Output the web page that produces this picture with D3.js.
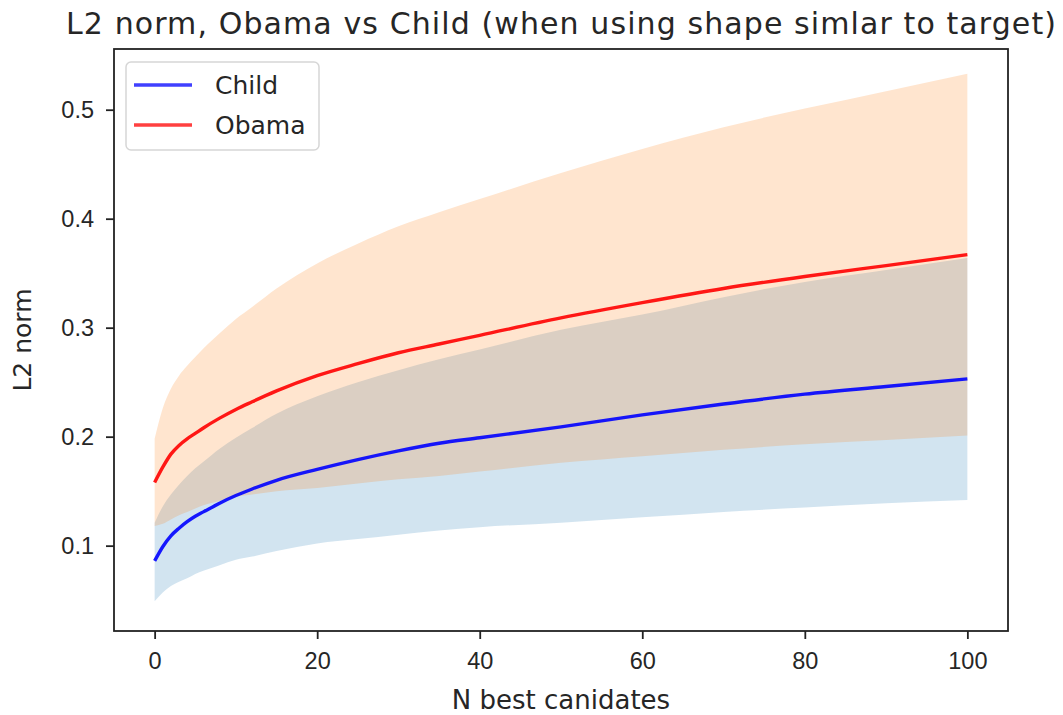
<!DOCTYPE html>
<html>
<head>
<meta charset="utf-8">
<script src="https://cdn.jsdelivr.net/npm/d3@7"></script>
<style>
  body { margin: 0; background: #fff; }
  svg { display: block; font-family: "DejaVu Sans", sans-serif; }
</style>
</head>
<body>
<svg id="chart" width="1063" height="715"></svg>
<script>
// N best candidates
const nValues   = [0, 1, 2, 3, 4, 5, 6, 8, 10, 12, 15, 20, 25, 30, 35, 40, 50, 60, 70, 80, 90, 100];
// Child: mean line and shaded band
const childMean = [0.086, 0.099, 0.109, 0.116, 0.122, 0.127, 0.131, 0.139, 0.146, 0.152, 0.160, 0.170, 0.179, 0.187, 0.194, 0.199, 0.209, 0.220, 0.230, 0.239, 0.246, 0.253];
const childLow  = [0.049, 0.057, 0.063, 0.067, 0.070, 0.074, 0.077, 0.082, 0.087, 0.090, 0.095, 0.102, 0.106, 0.110, 0.114, 0.117, 0.121, 0.126, 0.131, 0.135, 0.139, 0.142];
const childHigh = [0.121, 0.136, 0.147, 0.156, 0.164, 0.171, 0.177, 0.189, 0.199, 0.208, 0.221, 0.237, 0.250, 0.261, 0.271, 0.280, 0.298, 0.312, 0.328, 0.342, 0.353, 0.364];
// Obama: mean line and shaded band
const obamaMean = [0.158, 0.172, 0.184, 0.192, 0.198, 0.203, 0.208, 0.217, 0.225, 0.232, 0.242, 0.256, 0.267, 0.277, 0.285, 0.293, 0.309, 0.323, 0.336, 0.347, 0.357, 0.367];
const obamaLow  = [0.118, 0.120, 0.124, 0.128, 0.131, 0.134, 0.137, 0.141, 0.145, 0.147, 0.150, 0.153, 0.157, 0.161, 0.164, 0.168, 0.176, 0.182, 0.188, 0.193, 0.197, 0.201];
const obamaHigh = [0.198, 0.226, 0.244, 0.256, 0.265, 0.273, 0.281, 0.295, 0.308, 0.319, 0.336, 0.359, 0.377, 0.393, 0.406, 0.418, 0.442, 0.464, 0.484, 0.501, 0.517, 0.533];

const xTicks = [0, 20, 40, 60, 80, 100];
const yTicks = [0.1, 0.2, 0.3, 0.4, 0.5];

const series = [
  {name: 'Child', mean: childMean, low: childLow, high: childHigh, line: '#0000ff', band: '#1f77b4'},
  {name: 'Obama', mean: obamaMean, low: obamaLow, high: obamaHigh, line: '#ff0000', band: '#ff7f0e'}
];

const margin = {top: 49, right: 55, bottom: 84, left: 114},
  width = 1063 - margin.left - margin.right,
  height = 715 - margin.top - margin.bottom,
  fontSize = 23.5;

var svg = d3.select('#chart');
var g = svg.append('g')
  .attr('transform', 'translate(' + margin.left + ',' + margin.top + ')');

var x = d3.scaleLinear().domain([-5, 105]).range([0, width]);
var y = d3.scaleLinear().domain([0.0217, 0.5557]).range([height, 0]);

// shaded bands first, child then obama on top
series.forEach(function(s) {
  var pts = nValues.map(function(n, i) { return {n: n, lo: s.low[i], hi: s.high[i]}; });
  var area = d3.area()
    .x(function(d) { return x(d.n); })
    .y0(function(d) { return y(d.lo); })
    .y1(function(d) { return y(d.hi); })
    .curve(d3.curveMonotoneX);
  g.append('path')
    .datum(pts)
    .attr('d', area)
    .attr('fill', s.band)
    .attr('fill-opacity', 0.2);
});

series.forEach(function(s) {
  var pts = nValues.map(function(n, i) { return {n: n, v: s.mean[i]}; });
  var line = d3.line()
    .x(function(d) { return x(d.n); })
    .y(function(d) { return y(d.v); })
    .curve(d3.curveMonotoneX);
  g.append('path')
    .datum(pts)
    .attr('d', line)
    .attr('fill', 'none')
    .attr('stroke', s.line)
    .attr('stroke-opacity', 0.9)
    .attr('stroke-width', 3.4);
});

// axes
var xAxis = d3.axisBottom(x).tickValues(xTicks).tickSize(8).tickPadding(13).tickFormat(d3.format('d'));
var yAxis = d3.axisLeft(y).tickValues(yTicks).tickSize(8).tickPadding(12).tickFormat(d3.format('.1f'));

var gx = g.append('g').attr('transform', 'translate(0,' + height + ')').call(xAxis);
var gy = g.append('g').call(yAxis);
[gx, gy].forEach(function(a) {
  a.select('.domain').remove();
  a.selectAll('.tick line').attr('stroke', '#222').attr('stroke-width', 1.8);
  a.selectAll('.tick text').attr('fill', '#262626').style('font-size', fontSize + 'px');
});

// frame
g.append('rect')
  .attr('width', width)
  .attr('height', height)
  .attr('fill', 'none')
  .attr('stroke', '#222')
  .attr('stroke-width', 1.8);

// title and axis labels
svg.append('text')
  .attr('x', margin.left + width / 2)
  .attr('y', 34)
  .attr('text-anchor', 'middle')
  .attr('fill', '#262626')
  .attr('textLength', 990)
  .attr('lengthAdjust', 'spacing')
  .style('font-size', '30px')
  .text('L2 norm, Obama vs Child (when using shape simlar to target)');

svg.append('text')
  .attr('x', margin.left + width / 2)
  .attr('y', 709)
  .attr('text-anchor', 'middle')
  .attr('fill', '#262626')
  .style('font-size', '26px')
  .text('N best canidates');

svg.append('text')
  .attr('transform', 'translate(31,' + (margin.top + height / 2) + ') rotate(-90)')
  .attr('text-anchor', 'middle')
  .attr('fill', '#262626')
  .style('font-size', '25px')
  .text('L2 norm');

// legend
var legend = g.append('g').attr('transform', 'translate(12,13)');
legend.append('rect')
  .attr('width', 193)
  .attr('height', 88)
  .attr('rx', 5)
  .attr('fill', '#fff')
  .attr('fill-opacity', 0.8)
  .attr('stroke', '#d6d6d6')
  .attr('stroke-width', 1.5);
series.forEach(function(s, i) {
  var row = legend.append('g').attr('transform', 'translate(0,' + (23 + i * 40) + ')');
  row.append('line')
    .attr('x1', 8).attr('x2', 66)
    .attr('stroke', s.line)
    .attr('stroke-opacity', 0.75)
    .attr('stroke-width', 3.4);
  row.append('text')
    .attr('x', 89)
    .attr('dy', '0.35em')
    .attr('fill', '#262626')
    .style('font-size', '25px')
    .text(s.name);
});
</script>
</body>
</html>
